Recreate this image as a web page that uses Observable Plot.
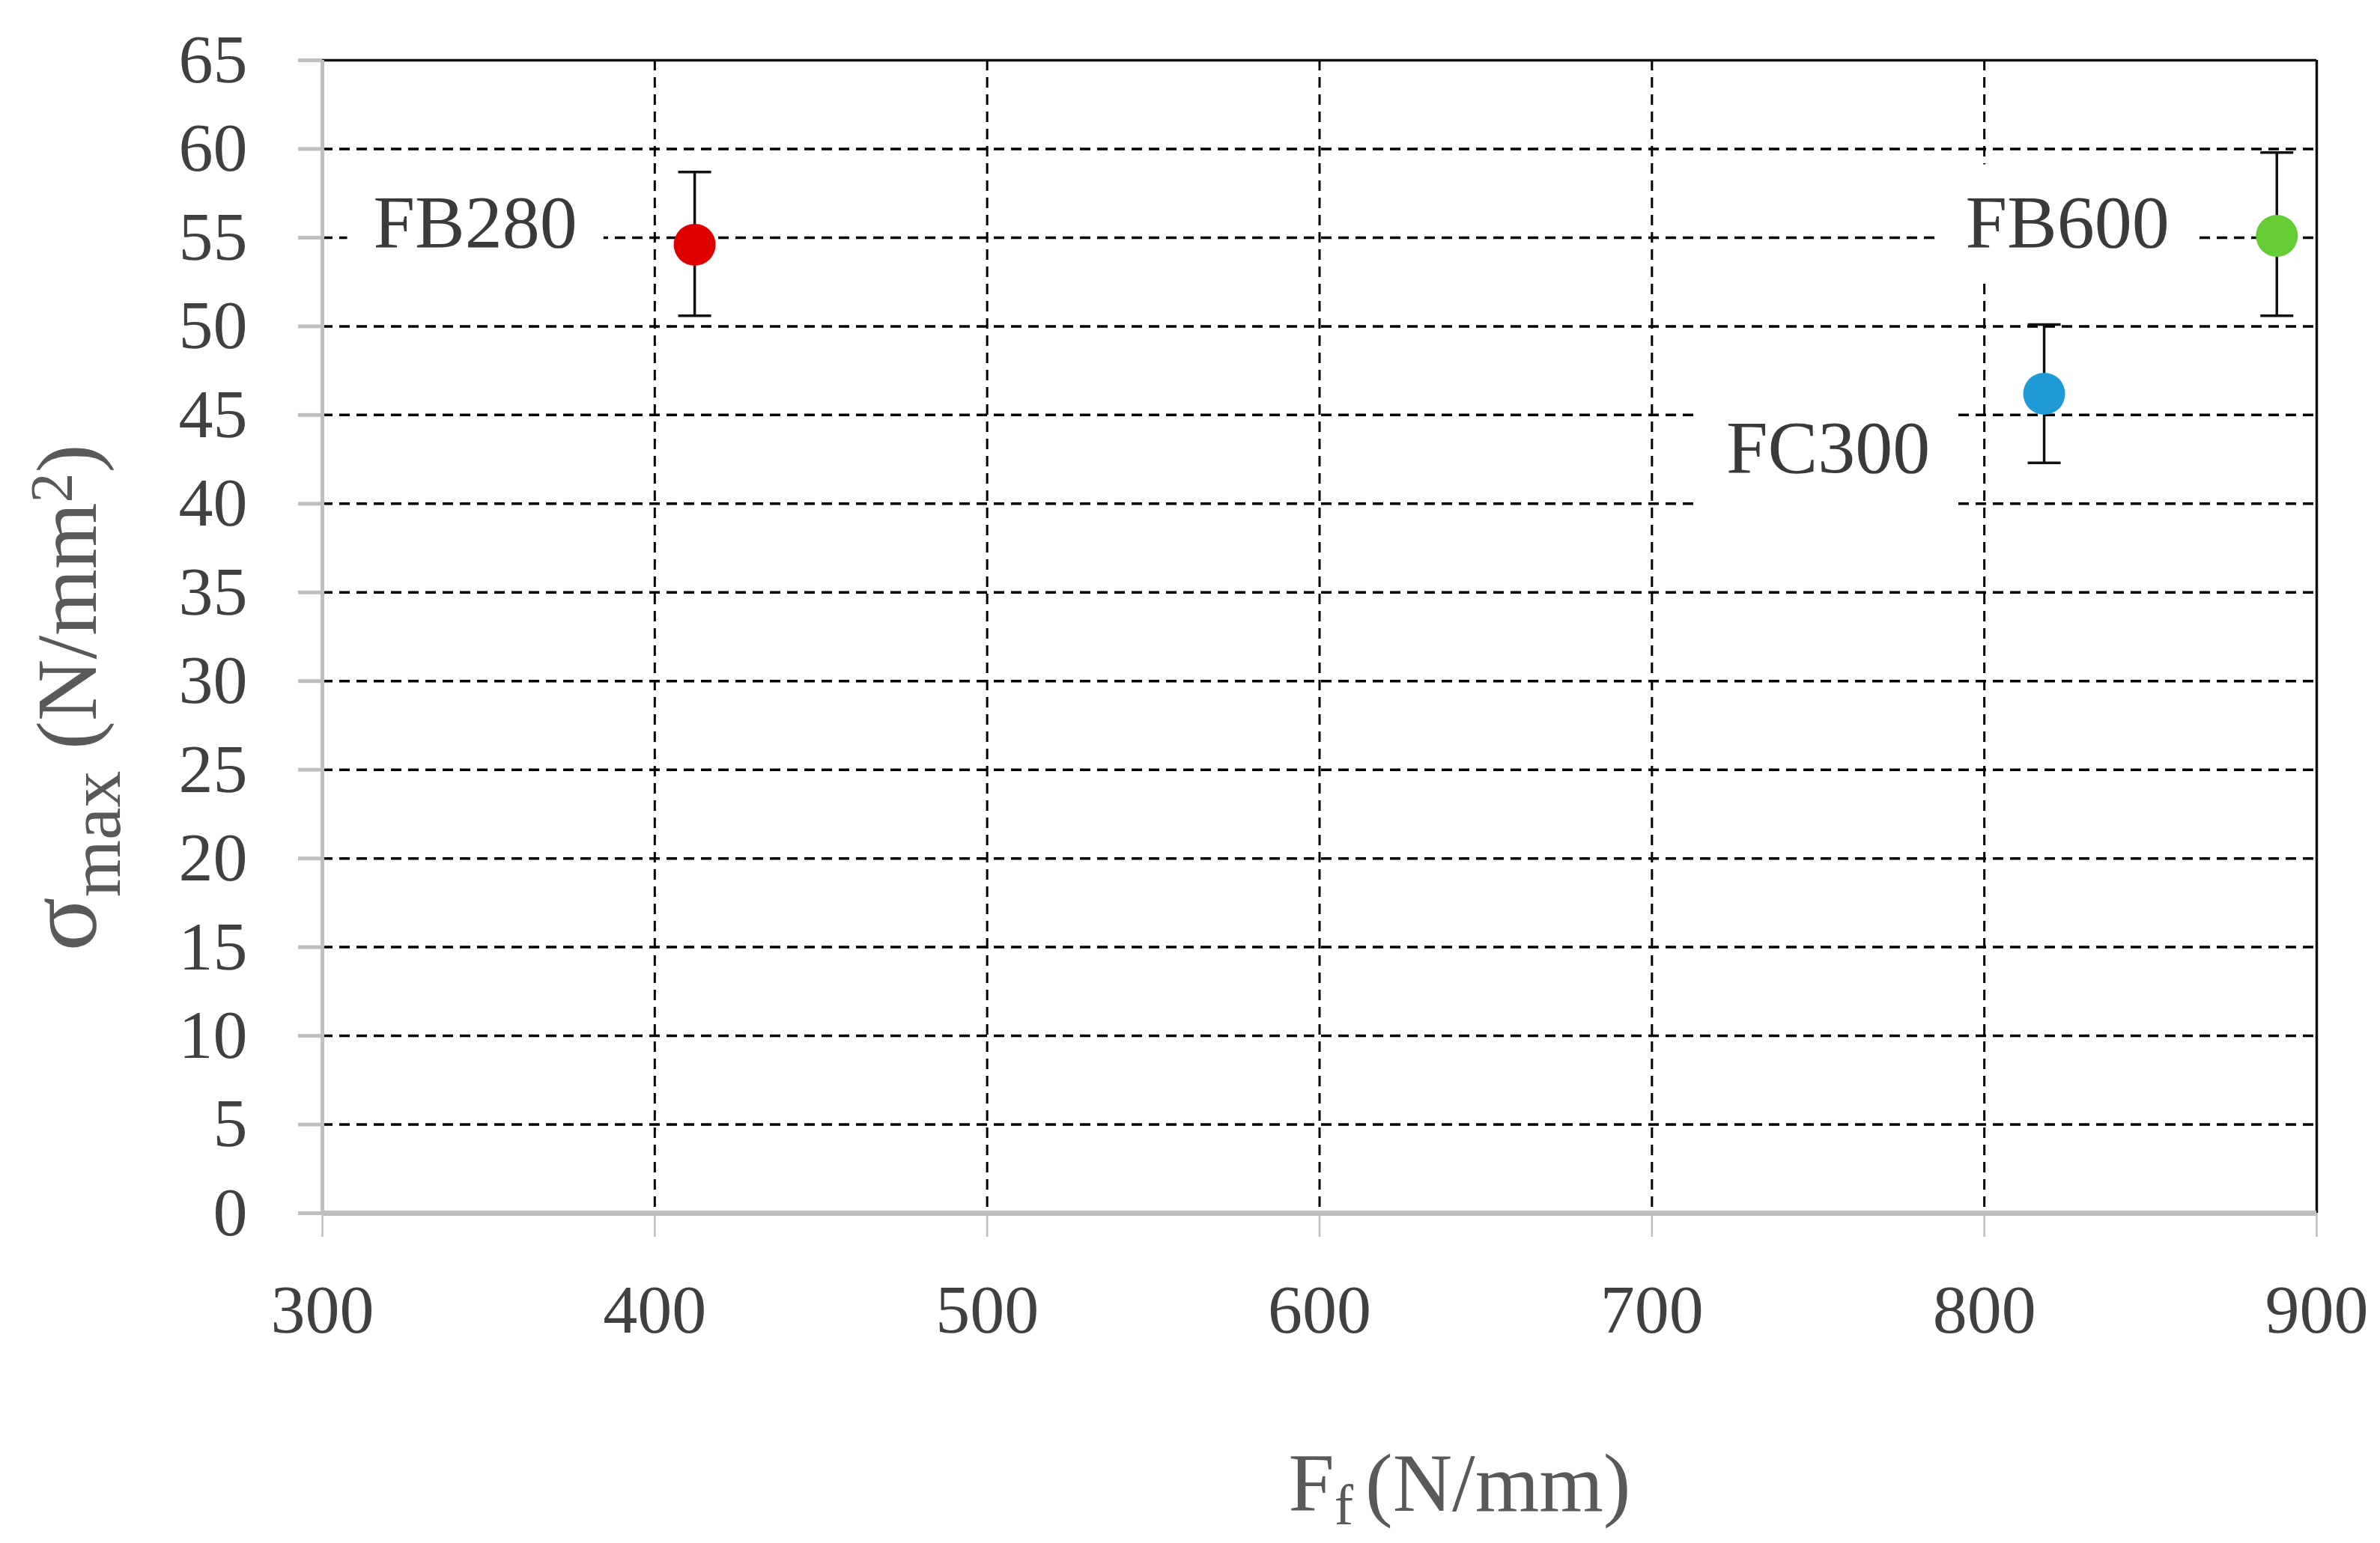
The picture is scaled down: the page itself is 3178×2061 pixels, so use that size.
<!DOCTYPE html>
<html><head><meta charset="utf-8">
<script src="https://cdn.jsdelivr.net/npm/d3@7"></script>
<script src="https://cdn.jsdelivr.net/npm/@observablehq/plot@0.6"></script>
<style>html,body{margin:0;padding:0;background:#fff;} svg{display:block;}</style>
</head><body><div id="chart"></div>
<script>
const samples = ["FB280", "FC300", "FB600"];
const force = [412, 818, 888];
const stress = [54.6, 46.2, 55.1];
const stressLow = [50.6, 42.3, 50.6];
const stressHigh = [58.7, 50.1, 59.8];
const colors = ["#e00000", "#1e9bd7", "#66cc33"];
const labelX = [346, 753, 825];
const labelY = [55.8, 43.1, 55.8];
const xTicks = [300, 400, 500, 600, 700, 800, 900];
const yTicks = [0, 5, 10, 15, 20, 25, 30, 35, 40, 45, 50, 55, 60, 65];

const W = 3178, H = 2061;
const data = samples.map((s, i) => ({
  sample: s, x: force[i], y: stress[i], lo: stressLow[i], hi: stressHigh[i],
  color: colors[i], lx: labelX[i], ly: labelY[i]
}));
const capSymbol = {draw(ctx, size) { const r = Math.sqrt(size / Math.PI); ctx.moveTo(-r, 0); ctx.lineTo(r, 0); }};
const font = "'Liberation Serif', 'Times New Roman', serif";

const svg = Plot.plot({
  width: W, height: H,
  marginLeft: 430, marginRight: 85, marginTop: 80, marginBottom: 441,
  style: {fontFamily: font, fontSize: "92px", color: "#404040", background: "white"},
  x: {domain: [300, 900], ticks: xTicks, label: null},
  y: {domain: [0, 65], ticks: yTicks, label: null},
  color: {type: "identity"},
  marks: [
    Plot.ruleY(yTicks.filter(d => d > 0 && d < 65), {stroke: "#000", strokeWidth: 3.5, strokeDasharray: "14,9"}),
    Plot.ruleX(xTicks.filter(d => d > 300 && d < 900), {stroke: "#000", strokeWidth: 3, strokeDasharray: "14,9"}),
    Plot.ruleY([65], {stroke: "#111", strokeWidth: 3.5}),
    Plot.ruleX([900], {stroke: "#111", strokeWidth: 3.5}),
    Plot.ruleX([300], {stroke: "#bfbfbf", strokeWidth: 5}),
    Plot.ruleY([0], {stroke: "#bfbfbf", strokeWidth: 7}),
    Plot.axisY({ticks: yTicks, tickSize: 32, tickPadding: 68, stroke: "#bfbfbf", strokeWidth: 5, fill: "#404040", label: null}),
    Plot.axisX({ticks: xTicks, tickSize: 32, tickPadding: 62, stroke: "#bfbfbf", strokeWidth: 2.5, fill: "#404040", label: null}),
    Plot.text(data, {x: "lx", y: "ly", text: "sample", fontSize: 100, fill: "#3a3a3a"}),
    Plot.ruleX(data, {x: "x", y1: "lo", y2: "hi", stroke: "#111", strokeWidth: 3.5}),
    Plot.dot(data, {x: "x", y: "lo", symbol: capSymbol, r: 22, stroke: "#111", strokeWidth: 3.5, fill: "none"}),
    Plot.dot(data, {x: "x", y: "hi", symbol: capSymbol, r: 22, stroke: "#111", strokeWidth: 3.5, fill: "none"}),
    Plot.dot(data, {x: "x", y: "y", r: 28, fill: "color", stroke: null})
  ]
});
document.getElementById("chart").appendChild(svg);

// white boxes behind the data labels
const textG = svg.querySelector('g[aria-label="text"]');
if (textG) {
  const sr = svg.getBoundingClientRect();
  const boxG = document.createElementNS("http://www.w3.org/2000/svg", "g");
  textG.parentNode.insertBefore(boxG, textG);
  textG.querySelectorAll("text").forEach(t => {
    const r = t.getBoundingClientRect();
    const rect = document.createElementNS("http://www.w3.org/2000/svg", "rect");
    rect.setAttribute("x", r.x - sr.x - 35);
    rect.setAttribute("y", r.y - sr.y - 22);
    rect.setAttribute("width", r.width + 70);
    rect.setAttribute("height", r.height + 44);
    rect.setAttribute("fill", "white");
    boxG.appendChild(rect);
  });
}

// axis titles
const s = d3.select(svg);
const xt = s.append("text").attr("x", 1949).attr("y", 2018).attr("text-anchor", "middle")
  .attr("fill", "#595959").style("font-family", font).style("font-size", "110px");
xt.append("tspan").text("F");
xt.append("tspan").attr("font-size", "76px").attr("dy", 18).text("f");
xt.append("tspan").attr("dy", -18).attr("dx", 16).text("(N/mm)");

const yt = s.append("text").attr("transform", "translate(128,932) rotate(-90)").attr("text-anchor", "middle")
  .attr("fill", "#595959").style("font-family", font).style("font-size", "114px");
yt.append("tspan").attr("font-size", "134px").text("σ");
yt.append("tspan").attr("font-size", "98px").attr("dy", 32).text("max");
yt.append("tspan").attr("dy", -32).text(" (N/mm");
yt.append("tspan").attr("font-size", "80px").attr("dy", -32).text("2");
yt.append("tspan").attr("dy", 32).text(")");
</script>
</body></html>
